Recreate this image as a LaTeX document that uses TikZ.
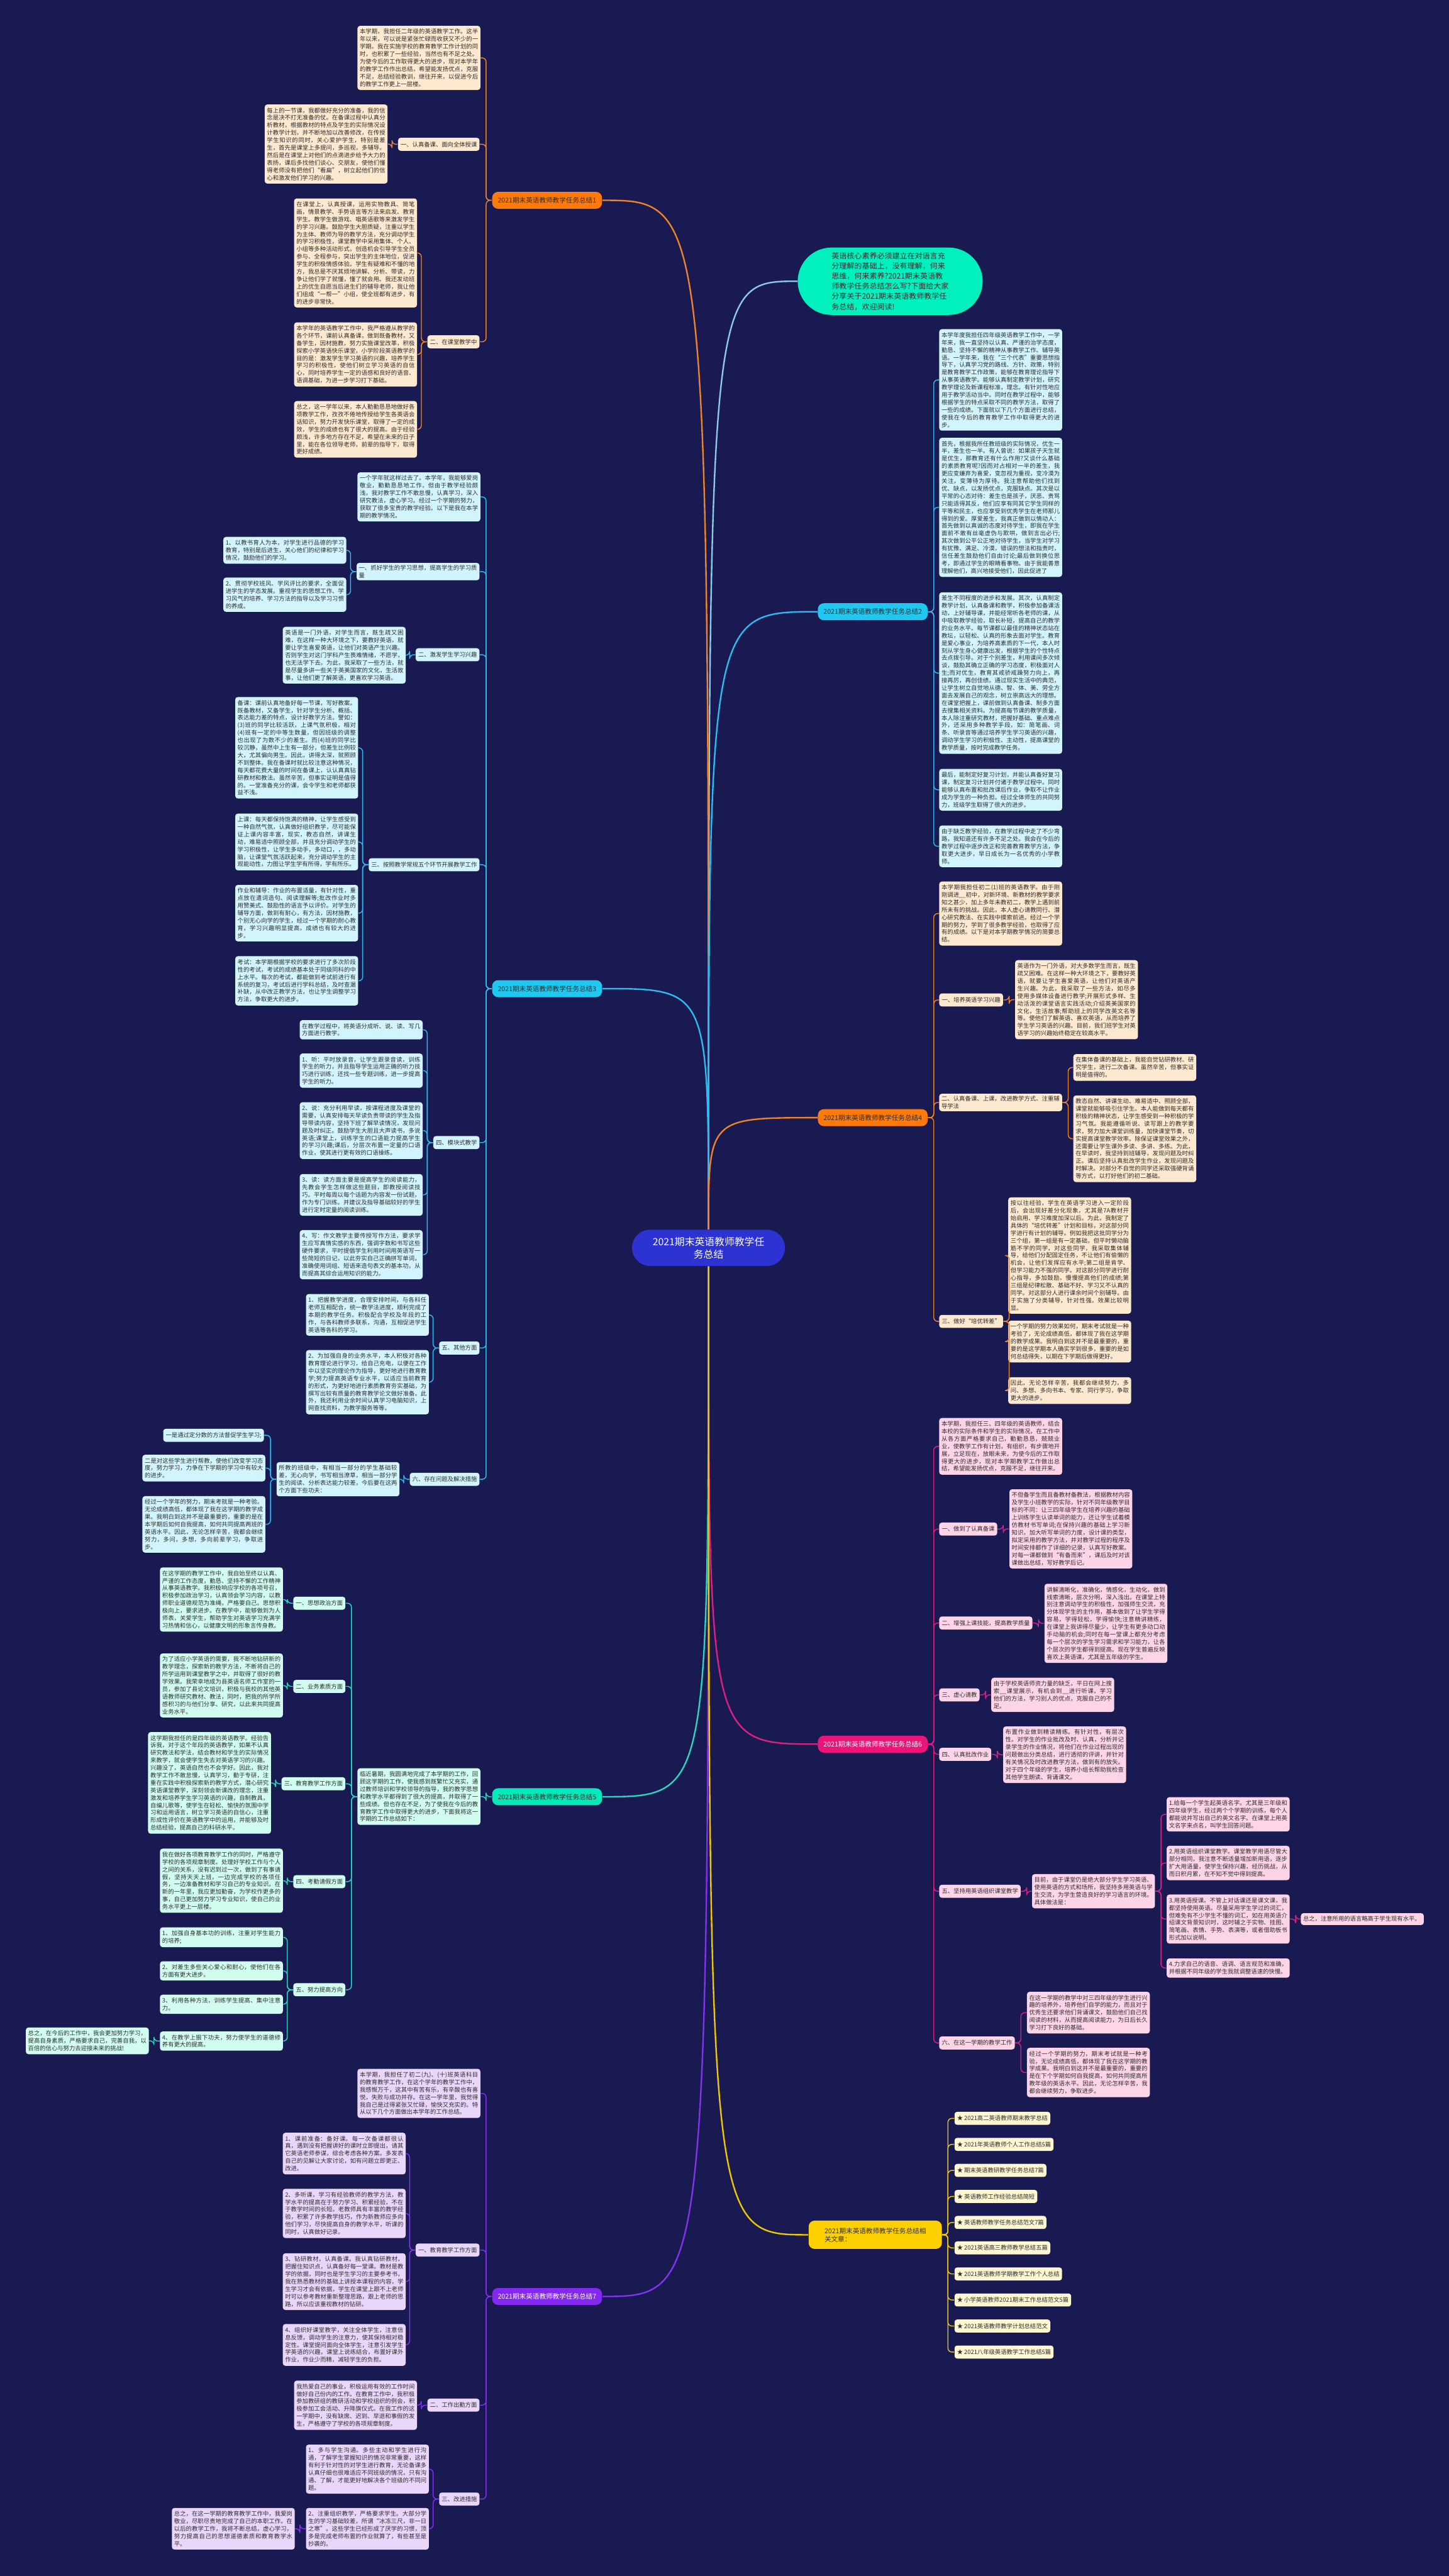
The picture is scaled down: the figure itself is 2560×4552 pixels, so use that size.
\documentclass[tikz,border=0pt]{standalone}
\usepackage{fontspec}
\setmainfont{Noto Sans CJK SC}
\XeTeXlinebreaklocale "zh"
\XeTeXlinebreakskip=0pt plus 1pt
\definecolor{bg}{RGB}{26,26,82}
\definecolor{tx}{RGB}{45,45,45}
\definecolor{ofill}{RGB}{253,232,208}\definecolor{ocol}{RGB}{240,130,40}\definecolor{olab}{RGB}{255,122,10}
\definecolor{cfill}{RGB}{210,245,253}\definecolor{ccol}{RGB}{40,190,240}\definecolor{clab}{RGB}{30,200,240}
\definecolor{tfill}{RGB}{208,253,240}\definecolor{tcol}{RGB}{40,215,190}\definecolor{tlab}{RGB}{0,235,185}
\definecolor{pfill}{RGB}{234,214,250}\definecolor{pcol}{RGB}{130,50,240}\definecolor{plab}{RGB}{130,40,240}
\definecolor{kfill}{RGB}{253,212,232}\definecolor{kcol}{RGB}{225,30,130}\definecolor{klab}{RGB}{235,20,120}
\definecolor{yfill}{RGB}{255,247,210}\definecolor{ycol}{RGB}{240,200,0}\definecolor{ylab}{RGB}{255,208,0}
\definecolor{gnode}{RGB}{0,240,190}\definecolor{gcol}{RGB}{140,202,230}
\definecolor{rootc}{RGB}{45,50,210}
\newcommand\fs{\fontsize{2.95pt}{3.76pt}\selectfont}
\newcommand\fb{\fontsize{3.35pt}{4.1pt}\selectfont}
\newcommand\ConL[3]{\draw[#1] (#2.west) -- ++(-10,0) |- (#3.east);}
\newcommand\ConR[3]{\draw[#1] (#2.east) -- ++(10,0) |- (#3.west);}
\tikzset{
  box/.style={font=\fs, text=tx, text width=2.09cm, align=justify, inner xsep=0.04cm, inner ysep=0.055cm, rounded corners=1.3pt, anchor=north west},
  lab/.style={font=\fs, text=tx, align=left, inner xsep=0.045cm, inner ysep=0.04cm, minimum height=0.23cm, rounded corners=1.3pt},
  blab/.style={font=\fb, inner xsep=0.1cm, inner ysep=0.05cm, minimum height=0.3cm, rounded corners=3pt},
  ob/.style={box, fill=ofill}, ol/.style={lab, fill=ofill}, oc/.style={ocol, line width=0.45pt, rounded corners=2pt},
  cb/.style={box, fill=cfill}, cl/.style={lab, fill=cfill}, cc/.style={ccol, line width=0.45pt, rounded corners=2pt},
  tb/.style={box, fill=tfill}, tl/.style={lab, fill=tfill}, tc/.style={tcol, line width=0.45pt, rounded corners=2pt},
  pb/.style={box, fill=pfill}, pl/.style={lab, fill=pfill}, pc/.style={pcol, line width=0.45pt, rounded corners=2pt},
  kb/.style={box, fill=kfill}, kl/.style={lab, fill=kfill}, kc/.style={kcol, line width=0.45pt, rounded corners=2pt},
  yl/.style={lab, fill=yfill, anchor=north west}, yc/.style={ycol, line width=0.45pt, rounded corners=2pt},
  rc/.style={line width=0.75pt}
}
\begin{document}
\begin{tikzpicture}[x=0.01cm, y=-0.01cm]
\useasboundingbox (0,0) rectangle (2560,4552);
\fill[bg] (0,0) rectangle (2560,4552);

% ---------- root and top node ----------
\node[fill=rootc, text=white, font=\fontsize{5pt}{6.3pt}\selectfont, align=center, rounded corners=9pt, inner xsep=0.2cm, inner ysep=0.1cm, minimum width=2.7cm, minimum height=0.64cm] (root) at (1252,2205) {2021期末英语教师教学任\\务总结};
\node[fill=gnode, text=tx, font=\fontsize{3.8pt}{5.1pt}\selectfont, align=left, rounded corners=17pt, inner xsep=0.6cm, inner ysep=0.06cm, minimum height=1.19cm] (green) at (1573,497) {英语核心素养必须建立在对语言充\\分理解的基础上，没有理解，何来\\思维，何来素养?2021期末英语教\\师教学任务总结怎么写?下面给大家\\分享关于2021期末英语教师教学任\\务总结，欢迎阅读!};

% ---------- branch labels ----------
\node[blab, fill=olab, text=tx, anchor=west] (br1) at (869,354) {2021期末英语教师教学任务总结1};
\node[blab, fill=clab, text=tx, anchor=west] (br3) at (869,1747) {2021期末英语教师教学任务总结3};
\node[blab, fill=tlab, text=tx, anchor=west] (br5) at (869,3175) {2021期末英语教师教学任务总结5};
\node[blab, fill=plab, text=white, anchor=west] (br7) at (869,4058) {2021期末英语教师教学任务总结7};
\node[blab, fill=clab, text=tx, anchor=east] (br2) at (1640,1081) {2021期末英语教师教学任务总结2};
\node[blab, fill=olab, text=tx, anchor=east] (br4) at (1640,1975) {2021期末英语教师教学任务总结4};
\node[blab, fill=klab, text=white, anchor=east] (br6) at (1640,3082) {2021期末英语教师教学任务总结6};
\node[blab, fill=ylab, text=tx, anchor=east, align=left, inner xsep=0.28cm, minimum height=0.5cm] (brr) at (1665,3949) {2021期末英语教师教学任务总结相\\关文章：};

% ---------- root connectors ----------
\draw[rc, gcol] (root.north) .. controls (root.north |- green.west) .. (green.west);
\draw[rc, ocol] (root.north) .. controls (root.north |- br1.east) .. (br1.east);
\draw[rc, ccol] (root.north) .. controls (root.north |- br3.east) .. (br3.east);
\draw[rc, ccol] (root.north) .. controls (root.north |- br2.west) .. (br2.west);
\draw[rc, ocol] (root.north) .. controls (root.north |- br4.west) .. (br4.west);
\draw[rc, tcol] (root.south) .. controls (root.south |- br5.east) .. (br5.east);
\draw[rc, pcol] (root.south) .. controls (root.south |- br7.east) .. (br7.east);
\draw[rc, kcol] (root.south) .. controls (root.south |- br6.west) .. (br6.west);
\draw[rc, ycol] (root.south) .. controls (root.south |- brr.west) .. (brr.west);

% ================= Branch 1 =================
\node[ob] (b1a) at (631,45) {本学期，我担任二年级的英语教学工作。这半年以来，可以说是紧张忙碌而收获又不少的一学期。我在实施学校的教育教学工作计划的同时，也积累了一些经验，当然也有不足之处。为使今后的工作取得更大的进步，现对本学年的教学工作作出总结，希望能发扬优点，克服不足，总结经验教训，继往开来，以促进今后的教学工作更上一层楼。};
\node[ol, anchor=east] (l11) at (848,255) {一、认真备课、面向全体授课};
\node[ob] (b1b) at (467,184) {每上的一节课，我都做好充分的准备，我的信念是决不打无准备的仗。在备课过程中认真分析教材，根据教材的特点及学生的实际情况设计教学计划，并不断地加以改善修改，在传授学生知识的同时，关心爱护学生，特别是差生，首先是课堂上多提问，多巡视，多辅导。然后是在课堂上对他们的点滴进步给予大力的表扬，课后多找他们谈心、交朋友，使他们懂得老师没有把他们“看扁”，树立起他们的信心和激发他们学习的兴趣。};
\node[ol, anchor=east] (l12) at (848,604) {二、在课堂教学中};
\node[ob] (b1c) at (519,350) {在课堂上，认真授课，运用实物教具、简笔画，情景教学、手势语言等方法来启发、教育学生。教学生做游戏、唱英语歌等来激发学生的学习兴趣。鼓励学生大胆质疑，注重以学生为主体、教师为导的教学方法，充分调动学生的学习积极性，课堂教学中采用集体、个人、小组等多种活动形式，创造机会引导学生全员参与、全程参与，突出学生的主体地位，促进学生的积极情感体验。学生有疑难和不懂的地方，我总是不厌其烦地讲解、分析、带读，力争让他们学了就懂，懂了就会用。我还发动班上的优生自愿当后进生们的辅导老师，我让他们组成“一帮一”小组，使全班都有进步，有的进步非常快。};
\node[ob] (b1d) at (519,569) {本学年的英语教学工作中，我严格遵从教学的各个环节，课前认真备课，做到既备教材，又备学生，因材施教，努力实施课堂改革，积极探索小学英语快乐课堂，小学阶段英语教学的目的是：激发学生学习英语的兴趣，培养学生学习的积极性，使他们树立学习英语的自信心，同时培养学生一定的语感和良好的语音、语调基础，为进一步学习打下基础。};
\node[ob] (b1e) at (519,708) {总之，这一学年以来，本人勤勤恳恳地做好各项教学工作，孜孜不倦地传授给学生各英语会话知识，努力开发快乐课堂，取得了一定的成效，学生的成绩也有了很大的提高。由于经验颇浅，许多地方存在不足，希望在未来的日子里，能在各位领导老师，前辈的指导下，取得更好成绩。};
\foreach \c in {b1a,l11,l12} {\ConL{oc}{br1}{\c}}
\ConL{oc}{l11}{b1b}
\foreach \c in {b1c,b1d,b1e} {\ConL{oc}{l12}{\c}}

% ================= Branch 3 =================
\node[cb] (b3a) at (631,834) {一个学年就这样过去了。本学年，我能够爱岗敬业，勤勤恳恳地工作，但由于教学经验颇浅，我对教学工作不敢怠慢，认真学习，深入研究教法，虚心学习。经过一个学期的努力，获取了很多宝贵的教学经验。以下是我在本学期的教学情况。};
\node[cb, anchor=north east, align=left, inner ysep=0.04cm] (l31) at (848,994) {一、抓好学生的学习思想，提高学生的学习质量};
\node[cb] (b3b1) at (394,948) {1、以教书育人为本，对学生进行品德的学习教育，特别是后进生，关心他们的纪律和学习情况，鼓励他们的学习。};
\node[cb] (b3b2) at (394,1020) {2、贯彻学校班风、学风评比的要求，全面促进学生的学态发展。重视学生的思想工作、学习风气的培养、学习方法的指导以及学习习惯的养成。};
\node[cl, anchor=east] (l32) at (848,1157) {二、激发学生学习兴趣};
\node[cb] (b3c) at (499,1107) {英语是一门外语，对学生而言，既生疏又困难，在这样一种大环境之下，要教好英语，就要让学生喜爱英语，让他们对英语产生兴趣。否则学生对这门学科产生畏难情绪，不愿学，也无法学下去。为此，我采取了一些方法，就是尽量多讲一些关于英美国家的文化，生活故事，让他们更了解英语，更喜欢学习英语。};
\node[cl, anchor=east] (l33) at (848,1528) {三、按照教学常规五个环节开展教学工作};
\node[cb] (b3d1) at (415,1231) {备课：课前认真地备好每一节课，写好教案。既备教材，又备学生，针对学生分析、概括、表达能力差的特点，设计好教学方法。譬如：(3)班的同学比较活跃，上课气氛积极，相对(4)班有一定的中等生数量，但因班级的调整也出现了为数不少的差生。而(4)班的同学比较沉静，虽然中上生有一部分，但差生比例较大，尤其偏向男生。因此，讲得太深，就照顾不到整体。我在备课时就比较注意这种情况，每天都花费大量的时间在备课上，认认真真钻研教材和教法。虽然辛苦，但事实证明是值得的。一堂准备充分的课，会令学生和老师都获益不浅。};
\node[cb] (b3d2) at (415,1437) {上课：每天都保持饱满的精神，让学生感受到一种自然气氛，认真做好组织教学，尽可能保证上课内容丰富，现实，教态自然，讲课生动，难易适中照顾全部，并且充分调动学生的学习积极性，让学生多动手，多动口，，多动脑，让课堂气氛活跃起来，充分调动学生的主观能动性，力图让学生学有所得，学有所乐。};
\node[cb] (b3d3) at (415,1563) {作业和辅导：作业的布置适量，有针对性，重点放在遣词造句、阅读理解等;批改作业时多用赞美式、鼓励性的语言予以评价。对学生的辅导方面，做到有耐心，有方法，因材施教，个别无心向学的学生，经过一个学期的耐心教育，学习兴趣明显提高，成绩也有较大的进步。};
\node[cb] (b3d4) at (415,1689) {考试：本学期根据学校的要求进行了多次阶段性的考试，考试的成绩基本处于同级同科的中上水平。每次的考试，都能做到考试前进行有系统的复习，考试后进行学科总结，及时查漏补缺，从中改正教学方法，也让学生调整学习方法，争取更大的进步。};
\node[cl, anchor=east] (l34) at (848,2019) {四、模块式教学};
\node[cb] (b3e0) at (529,1802) {在教学过程中，将英语分成听、说、读、写几方面进行教学。};
\node[cb] (b3e1) at (529,1861) {1、听：平时放录音，让学生跟录音读，训练学生的听力，并且指导学生运用正确的听力技巧进行训练，还找一些专题训练，进一步提高学生的听力。};
\node[cb] (b3e2) at (529,1947) {2、说：充分利用早读，按课程进度及课堂的需要，认真安排每天早读负责带读的学生及指导带读内容，坚持下班了解早读情况，发现问题及时纠正。鼓励学生大胆且大声读书，多说英语;课堂上，训练学生的口语能力提高学生的学习兴趣;课后，分层次布置一定量的口语作业，使其进行更有效的口语操练。};
\node[cb] (b3e3) at (529,2074) {3、读：读方面主要是提高学生的阅读能力，先教会学生怎样做这些题目，即教授阅读技巧。平时每周以每个话题为内容发一份试题，作为专门训练。并建议及指导基础较好的学生进行定时定量的阅读训练。};
\node[cb] (b3e4) at (529,2173) {4、写：作文教学主要传授写作方法，要求学生应写真情实感的东西，强调字数和书写这些硬件要求，平时提倡学生利用时间用英语写一些简短的日记，以此夯实自己正确拼写单词，准确使用词组、短语来造句表文的基本功，从而提高其综合运用知识的能力。};
\node[cl, anchor=east] (l35) at (848,2382) {五、其他方面};
\node[cb] (b3f1) at (540,2286) {1、把握教学进度，合理安排时间，与各科任老师互相配合，统一教学法进度，顺利完成了本期的教学任务。积极配合学校及年段的工作，与各科教师多联系，沟通，互相促进学生英语等各科的学习。};
\node[cb] (b3f2) at (540,2385) {2、为加强自身的业务水平，本人积极对各种教育理论进行学习，给自己充电，以便在工作中以坚实的理论作为指导，更好地进行教育教学;努力提高英语专业水平，以适应当前教育的形式，为更好地进行素质教育夯实基础，为撰写出较有质量的教育教学论文做好准备。此外，我还利用业余时间认真学习电脑知识，上网查找资料，为教学服务等等。};
\node[cl, anchor=east] (l36) at (848,2614) {六、存在问题及解决措施};
\node[cb] (b3g) at (488,2583) {所教的班级中，有相当一部分的学生基础较差，无心向学，书写相当潦草，相当一部分学生的阅读、分析表达能力较差，今后要在这两个方面下些功夫：};
\node[cl, anchor=north east] (b3ga) at (467,2524) {一是通过定分数的方法督促学生学习;};
\node[cb] (b3gb) at (251,2570) {二是对这些学生进行帮教，使他们改变学习态度，努力学习，力争在下学期的学习中有较大的进步。};
\node[cb] (b3gc) at (251,2643) {经过一个学年的努力，期末考就是一种考验。无论成绩高低，都体现了我在这学期的教学成果。我明白到这并不是最重要的，重要的是在本学期后如何自我提高，如何共同提高两班的英语水平。因此，无论怎样辛苦，我都会继续努力，多问，多想，多向前辈学习，争取进步。};
\foreach \c in {b3a,l31,l32,l33,l34,l35,l36} {\ConL{cc}{br3}{\c}}
\foreach \c in {b3b1,b3b2} {\ConL{cc}{l31}{\c}}
\ConL{cc}{l32}{b3c}
\foreach \c in {b3d1,b3d2,b3d3,b3d4} {\ConL{cc}{l33}{\c}}
\foreach \c in {b3e0,b3e1,b3e2,b3e3,b3e4} {\ConL{cc}{l34}{\c}}
\foreach \c in {b3f1,b3f2} {\ConL{cc}{l35}{\c}}
\ConL{cc}{l36}{b3g}
\foreach \c in {b3ga,b3gb,b3gc} {\ConL{cc}{b3g}{\c}}

% ================= Branch 5 =================
\node[tb] (b5a) at (631,3124) {临近暑期，我圆满地完成了本学期的工作，回顾这学期的工作，使我感到既繁忙又充实，通过教师培训和学校领导的指导，我的教学思想和教学水平都得到了很大的提高，并取得了一些成绩。但也存在不足，为了使我在今后的教育教学工作中取得更大的进步，下面我将这一学期的工作总结如下：};
\node[tl, anchor=east] (l51) at (611,2833) {一、思想政治方面};
\node[tb] (b51) at (282,2769) {在这学期的教学工作中，我自始至终以认真、严谨的工作态度，勤恳、坚持不懈的工作精神从事英语教学。我积极响应学校的各项号召，积极参加政治学习，认真领会学习内容，以教师职业道德规范为准绳，严格要自己。思想积极向上，要求进步。在教学中，能够做到为人师表，关爱学生，帮助学生对英语学习充满学习热情和信心，以健康文明的形象言传身教。};
\node[tl, anchor=east] (l52) at (611,2980) {二、业务素质方面};
\node[tb] (b52) at (282,2921) {为了适应小学英语的需要，我不断地钻研新的教学理念，探索新的教学方法，不断将自己的所学运用到课堂教学之中，并取得了很好的教学效果。我荣幸地成为县英语名师工作室的一员，参加了县论文培训，积极与我校的其他英语教师研究教材、教法，同时，把我的所学所感积习的与他们分享、研究，以此来共同提高业务水平。};
\node[tl, anchor=east] (l53) at (611,3152) {三、教育教学工作方面};
\node[tb] (b53) at (261,3060) {这学期我担任的是四年级的英语教学。经验告诉我，对于这个年段的英语教学，如果不认真研究教法和学法，结合教材和学生的实际情况来教学，就会使学生失去对英语学习的兴趣。兴趣没了，英语自然也不会学好。因此，我对教学工作不敢怠慢，认真学习，勤于专研，注重在实践中积极探索新的教学方式，潜心研究英语课堂教学，深刻领会新课改的理念，注重激发和培养学生学习英语的兴趣，自制教具，自编儿歌等，使学生在轻松、愉快的氛围中学习和运用语言，树立学习英语的自信心，注重形成性评价在英语教学中的运用，并能够及时总结经验，提高自己的科研水平。};
\node[tl, anchor=east] (l54) at (611,3325) {四、考勤请假方面};
\node[tb] (b54) at (282,3266) {我在做好各项教育教学工作的同时，严格遵守学校的各项规章制度。处理好学校工作与个人之间的关系，没有迟到过一次，做到了有事请假，坚持天天上班，一边完成学校的各项任务，一边准备教材和学习自己的专业知识。在新的一年里，我应更加勤奋，为学校作更多的事，自己更加努力学习专业知识，使自己的业务水平更上一层楼。};
\node[tl, anchor=east] (l55) at (611,3516) {五、努力提高方向};
\node[tb] (b55a) at (282,3405) {1、加强自身基本功的训练，注重对学生能力的培养;};
\node[tb] (b55b) at (282,3465) {2、对差生多些关心爱心和耐心，使他们在各方面有更大进步。};
\node[tb] (b55c) at (282,3524) {3、利用各种方法，训练学生提高、集中注意力。};
\node[tb] (b55d) at (282,3589) {4、在教学上狠下功夫，努力使学生的道德修养有更大的提高。};
\node[tb] (b55e) at (45,3582) {总之，在今后的工作中，我会更加努力学习，提高自身素质，严格要求自己，完善自我，以百倍的信心与努力去迎接未来的挑战!};
\ConL{tc}{br5}{b5a}
\foreach \c in {l51,l52,l53,l54,l55} {\ConL{tc}{b5a}{\c}}
\ConL{tc}{l51}{b51}
\ConL{tc}{l52}{b52}
\ConL{tc}{l53}{b53}
\ConL{tc}{l54}{b54}
\foreach \c in {b55a,b55b,b55c,b55d} {\ConL{tc}{l55}{\c}}
\ConL{tc}{b55d}{b55e}

% ================= Branch 7 =================
\node[pb] (b7a) at (631,3655) {本学期，我担任了初二(九)、(十)班英语科目的教育教学工作，在这个学年的教学工作中，我感慨万千，这其中有苦有乐，有辛酸也有喜悦，失败与成功并存。在这一学年里，我觉得我自己是过得紧张又忙碌，愉快又充实的。特从以下几个方面做出本学年的工作总结。};
\node[pl, anchor=east] (l71) at (848,3976) {一、教育教学工作方面};
\node[pb] (b71a) at (499,3768) {1、课前准备：备好课。每一次备课都很认真，遇到没有把握讲好的课时立即提出，请其它英语老师参谋，综合考虑各种方案。多发表自己的见解让大家讨论，如有问题立即更正、改进。};
\node[pb] (b71b) at (499,3867) {2、多听课，学习有经验教师的教学方法，教学水平的提高在于努力学习、积累经验，不在于教学时间的长短。老教师具有丰富的教学经验，积累了许多教学技巧，作为新教师应多向他们学习，尽快提高自身的教学水平，听课的同时，认真做好记录。};
\node[pb] (b71c) at (499,3981) {3、钻研教材，认真备课。我认真钻研教材，把握住知识点，认真备好每一堂课。教材是教学的依据，同时也是学生学习的主要参考书，我在熟悉教材的基础上讲授本课程的内容，学生学习才会有依据，学生在课堂上跟不上老师时可以参考教材重新整理思路，跟上老师的思路，所以应该重视教材的钻研。};
\node[pb] (b71d) at (499,4106) {4、组织好课堂教学，关注全体学生，注意信息反馈，调动学生的注意力，使其保持相对稳定性。课堂提问面向全体学生，注意引发学生学英语的兴趣，课堂上说练结合，布置好课外作业，作业少而精，减轻学生的负担。};
\node[pl, anchor=east] (l72) at (848,4250) {二、工作出勤方面};
\node[pb] (b72) at (519,4206) {我热爱自己的事业，积极运用有效的工作时间做好自己份内的工作。在教育工作中，我积极参加教研组的教研活动和学校组织的例会，积极参加工会活动、升降旗仪式。在我工作的这一学期中，没有缺席、迟到、早退和事假的发生，严格遵守了学校的各项规章制度。};
\node[pl, anchor=east] (l73) at (848,4416) {三、改进措施};
\node[pb] (b73a) at (540,4319) {1、多与学生沟通。多些主动和学生进行沟通，了解学生掌握知识的情况非常重要，这样有利于针对性的对学生进行教育，无论备课多认真仔细也很难适应不同班级的情况，只有沟通、了解，才能更好地解决各个班级的不同问题。};
\node[pb] (b73b) at (540,4431) {2、注重组织教学，严格要求学生。大部分学生的学习基础较差，所谓“冰冻三尺，非一日之寒”。这些学生已经形成了厌学的习惯，顶多是完成老师布置的作业就算了，有些甚至是抄袭的。};
\node[pb] (b73c) at (303,4431) {总之，在这一学期的教育教学工作中，我爱岗敬业，尽职尽责地完成了自己的本职工作。在以后的教学工作，我将不断总结，虚心学习，努力提高自己的思想道德素质和教育教学水平。};
\foreach \c in {b7a,l71,l72,l73} {\ConL{pc}{br7}{\c}}
\foreach \c in {b71a,b71b,b71c,b71d} {\ConL{pc}{l71}{\c}}
\ConL{pc}{l72}{b72}
\foreach \c in {b73a,b73b} {\ConL{pc}{l73}{\c}}
\ConL{pc}{b73b}{b73c}

% ================= Branch 2 =================
\node[cb] (b2a) at (1659,581) {本学年度我担任四年级英语教学工作中，一学年来，我一直坚持以认真、严谨的治学态度，勤恳、坚持不懈的精神从事教学工作、辅导英语。一学年来，我在“三个代表”重要思想指导下，认真学习党的路线、方针、政策，特别是教育教学工作政策，能够在教育理论指导下从事英语教学。能够认真制定教学计划，研究教学理论及新课程标准，理念。有针对性地应用于教学活动当中。同时在教学过程中，能够根据学生的特点采取不同的教学方法，取得了一些的成绩。下面就以下几个方面进行总结，使我在今后的教育教学工作中取得更大的进步。};
\node[cb] (b2b) at (1659,773) {首先，根据我所任教班级的实际情况，优生一半，差生也一半。有人曾说：如果孩子天生就是优生，那教育还有什么作用?又谈什么基础的素质教育呢?因而对占相对一半的差生，我更应变嫌弃为喜爱，变忽视为重视，变冷漠为关注，变薄待为厚待。我注意帮助他们找到优、缺点，以发扬优点，克服缺点。其次是以平常的心态对待：差生也是孩子，厌恶、责骂只能适得其反，他们应享有同其它学生同样的平等和民主，也应享受到优秀学生在老师那儿得到的爱。厚爱差生，我真正做到以情动人：首先做到以真诚的态度对待学生，即我在学生面前不敢有丝毫虚伪与欺哄，做到言出必行;其次做到公平公正地对待学生，当学生对学习有犹豫、满足、冷漠，错误的想法和指责时，信任差生鼓励他们自由讨论;最后做到换位思考，即通过学生的眼睛看事物。由于我能善意理解他们，高兴地接受他们，因此促进了};
\node[cb] (b2c) at (1659,1046) {差生不同程度的进步和发展。其次，认真制定教学计划，认真备课和教学，积极参加备课活动，上好辅导课，并能经常听各老师的课，从中吸取教学经验，取长补短，提高自己的教学的业务水平。每节课都以最佳的精神状态站在教坛，以轻松、认真的形象去面对学生。教育是爱心事业，为培养高素质的下一代，本人时刻从学生身心健康出发，根据学生的个性特点去点拨引导。对于个别差生，利用课间多次倾谈，鼓励其确立正确的学习态度，积极面对人生;而对优生，教育其戒骄戒躁努力向上，再接再厉，再创佳绩。通过现实生活中的典范，让学生树立自觉地从德、智、体、美、劳全方面去发展自己的观念，树立崇高远大的理想。在课堂把握上，课前做到认真备课、制多方面去搜集相关资料。为提高每节课的教学质量，本人除注重研究教材，把握好基础、重点难点外，还采用多种教学手段，如：简笔画、词条、听录音等通过培养学生学习英语的兴趣，调动学生学习的积极性、主动性，提高课堂的教学质量，按时完成教学任务。};
\node[cb] (b2d) at (1659,1358) {最后，能制定好复习计划，并能认真备好复习课，制定复习计划并付诸于教学过程中。同时能够认真布置和批改课后作业，争取不让作业成为学生的一种负担。经过全体师生的共同努力，班级学生取得了很大的进步。};
\node[cb] (b2e) at (1659,1458) {由于缺乏教学经验，在教学过程中走了不少弯路，我知道还有许多不足之处。我会在今后的教学过程中逐步改正和完善教育教学方法，争取更大进步，早日成长为一名优秀的小学教师。};
\foreach \c in {b2a,b2b,b2c,b2d,b2e} {\ConR{cc}{br2}{\c}}

% ================= Branch 4 =================
\node[ob] (b4a) at (1659,1557) {本学期我担任初二(1)班的英语教学。由于刚刚调进\_\_初中，对新环境、新教材的教学要求知之甚少，加上多年未教初二，教学上遇到前所未有的挑战。因此，本人虚心请教同行、潜心研究教法、在实践中摸索前进。经过一个学期的努力，学到了很多教学经验，也取得了应有的成绩。以下是对本学期教学情况的简要总结。};
\node[ol, anchor=west] (l41) at (1659,1767) {一、培养英语学习兴趣};
\node[ob] (b41) at (1793,1696) {英语作为一门外语，对大多数学生而言，既生疏又困难。在这样一种大环境之下，要教好英语，就要让学生喜爱英语，让他们对英语产生兴趣。为此，我采取了一些方法，如尽多使用多媒体设备进行教学;开展形式多样、生动活泼的课堂语言实践活动;介绍英美国家的文化，生活故事;帮助班上的同学改英文名等等。使他们了解英语、喜欢英语，从而培养了学生学习英语的兴趣。目前，我们班学生对英语学习的兴趣始终稳定在较高水平。};
\node[ob, align=left, inner ysep=0.04cm] (l42) at (1659,1932) {二、认真备课、上课，改进教学方式、注重辅导学法};
\node[ob] (b42a) at (1896,1862) {在集体备课的基础上，我能自觉钻研教材、研究学生，进行二次备课。虽然辛苦，但事实证明是值得的。};
\node[ob] (b42b) at (1896,1935) {教态自然、讲课生动、难易适中、照顾全部，课堂就能够吸引住学生。本人能做到每天都有积极的精神状态，让学生感受到一种积极的学习气氛。我能遵循听说、读写跟上的教学要求，努力加大课堂训练量，加快课堂节奏，切实提高课堂教学效率。除保证课堂效果之外，还需要让学生课外多读、多讲、多练。为此，在早读时，我坚持到班辅导，发现问题及时纠正。课后坚持认真批改学生作业，发现问题及时解决。对部分不自觉的同学还采取强硬背诵等方式，以打好他们的初二基础。};
\node[ol, anchor=west] (l43) at (1659,2335) {三、做好“培优转差”};
\node[ob] (b43a) at (1781,2115) {按以往经验，学生在英语学习进入一定阶段后，会出现好差分化现象，尤其是7A教材开始启用、学习难度加深以后。为此，我制定了具体的“培优转差”计划和目标，对这部分同学进行有计划的辅导。例如我把这批同学分为三个组，第一组是有一定基础，但平时懒动脑筋不学的同学，对这些同学，我采取集体辅导，给他们分配固定任务，不让他们有偷懒的机会，让他们发挥应有水平;第二组是肯学、但学习能力不强的同学。对这部分同学进行耐心指导，多加鼓励，慢慢提高他们的成绩;第三组是纪律松散、基础不好、学习又不认真的同学。对这部分人进行课余时间个别辅导。由于实施了分类辅导，针对性强，效果比较明显。};
\node[ob] (b43b) at (1781,2333) {一个学期的努力效果如何，期末考试就是一种考验了，无论成绩高低，都体现了我在这学期的教学成果。我明白到这并不是最重要的，重要的是这学期本人确实学到很多，重要的是如何总结得失，以期在下学期后做得更好。};
\node[ob] (b43c) at (1781,2433) {因此，无论怎样辛苦，我都会继续努力，多问、多想、多向书本、专家、同行学习，争取更大的进步。};
\foreach \c in {b4a,l41,l42,l43} {\ConR{oc}{br4}{\c}}
\ConR{oc}{l41}{b41}
\foreach \c in {b42a,b42b} {\ConR{oc}{l42}{\c}}
\foreach \c in {b43a,b43b,b43c} {\ConR{oc}{l43}{\c}}

% ================= Branch 6 =================
\node[kb] (b6a) at (1659,2505) {本学期，我担任三、四年级的英语教师，结合本校的实际条件和学生的实际情况，在工作中从各方面严格要求自己，勤勤恳恳，兢兢业业，使教学工作有计划，有组织，有步骤地开展，立足现在，放眼未来，为使今后的工作取得更大的进步，现对本学期教学工作做出总结，希望能发扬优点，克服不足，继往开来。};
\node[kl, anchor=west] (l61) at (1659,2702) {一、做到了认真备课};
\node[kb] (b61) at (1783,2631) {不但备学生而且备教材备教法，根据教材内容及学生小班教学的实际，针对不同年级教学目标的不同：让三四年级学生在培养兴趣的基础上训练学生认读单词的能力，还让学生试着模仿教材书写单词;在保持兴趣的基础上学习新知识，加大听写单词的力度，设计课的类型，拟定采用的教学方法，并对教学过程的程序及时间安排都作了详细的记录，认真写好教案。对每一课都做到“有备而来”，课后及时对该课做出总结，写好教学后记。};
\node[kl, anchor=west] (l62) at (1659,2868) {二、增强上课技能，提高教学质量};
\node[kb] (b62) at (1845,2798) {讲解清晰化，准确化，情感化，生动化，做到线索清晰，层次分明，深入浅出。在课堂上特别注意调动学生的积极性，加强师生交流，充分体现学生的主作用，基本做到了让学生学得容易，学得轻松，学得愉快;注意精讲精练，在课堂上我讲得尽量少，让学生有更多动口动手动脑的机会;同时在每一堂课上都充分考虑每一个层次的学生学习需求和学习能力，让各个层次的学生都得到提高。现在学生普遍反映喜欢上英语课，尤其是五年级的学生。};
\node[kl, anchor=west] (l63) at (1659,2995) {三、虚心请教};
\node[kb] (b63) at (1751,2964) {由于学校英语师资力量的缺乏，平日在网上搜索\_\_课堂展示，有机会到\_\_进行听课，学习他们的方法，学习别人的优点，克服自己的不足。};
\node[kl, anchor=west] (l64) at (1659,3100) {四、认真批改作业};
\node[kb] (b64) at (1772,3050) {布置作业做到精读精练。有针对性，有层次性。对学生的作业批改及时、认真，分析并记录学生的作业情况，将他们在作业过程出现的问题做出分类总结，进行透彻的评讲，并针对有关情况及时改进教学方法，做到有的放矢。对于四个年级的学生，培养小组长帮助我检查其他学生朗读、背诵课文。};
\node[kl, anchor=west] (l65) at (1659,3342) {五、坚持用英语组织课堂教学};
\node[kb] (b65) at (1823,3311) {目前，由于课堂仍是绝大部分学生学习英语、使用英语的方式和场所，我坚持多用英语与学生交流，为学生营造良好的学习语言的环境。具体做法是：};
\node[kb] (b65a) at (2061,3175) {1.给每一个学生起英语名字。尤其是三年级和四年级学生，经过两个个学期的训练，每个人都能说并写出自己的英文名字。在课堂上用英文名字来点名，叫学生回答问题。};
\node[kb] (b65b) at (2061,3261) {2.用英语组织课堂教学。课堂教学用语尽管大部分相同，我注意不断适量增加新用语，逐步扩大用语量，使学生保持兴趣，经历挑战，从而日积月累，在不知不觉中得到提高。};
\node[kb] (b65c) at (2061,3347) {3.用英语授课。不管上对话课还是课文课，我都坚持使用英语。尽量采用学生学过的词汇，但难免有不少学生不懂的词汇，如在用英语介绍课文背景知识时，这时辅之于实物、挂图、简笔画、表情、手势、表演等，或者借助板书形式加以说明。};
\node[kb] (b65d) at (2061,3460) {4.力求自己的语音、语调、语言规范和准确，并根据不同年级的学生我就调整语速的快慢。};
\node[kb] (b65x) at (2298,3380) {总之，注意所用的语言略高于学生现有水平。};
\node[kl, anchor=west] (l66) at (1659,3610) {六、在这一学期的教学工作};
\node[kb] (b66a) at (1814,3519) {在这一学期的教学中对三四年级的学生进行兴趣的培养外，培养他们自学的能力，而且对于优秀生还要求他们背诵课文，鼓励他们自己找阅读的材料，从而提高阅读能力，为日后长久学习打下良好的基础。};
\node[kb] (b66b) at (1814,3618) {经过一个学期的努力，期末考试就是一种考验，无论成绩高低，都体现了我在这学期的教学成果。我明白到这并不是最重要的，重要的是在下个学期如何自我提高，如何共同提高所教年级的英语水平。因此，无论怎样辛苦，我都会继续努力，争取进步。};
\foreach \c in {b6a,l61,l62,l63,l64,l65,l66} {\ConR{kc}{br6}{\c}}
\ConR{kc}{l61}{b61}
\ConR{kc}{l62}{b62}
\ConR{kc}{l63}{b63}
\ConR{kc}{l64}{b64}
\ConR{kc}{l65}{b65}
\foreach \c in {b65a,b65b,b65c,b65d} {\ConR{kc}{b65}{\c}}
\ConR{kc}{b65c}{b65x}
\foreach \c in {b66a,b66b} {\ConR{kc}{l66}{\c}}

% ================= Related =================
\node[yl] (r1) at (1686,3731) {★ 2021高二英语教师期末教学总结};
\node[yl] (r2) at (1686,3777) {★ 2021年英语教师个人工作总结5篇};
\node[yl] (r3) at (1686,3823) {★ 期末英语教研教学任务总结7篇};
\node[yl] (r4) at (1686,3869) {★ 英语教师工作经验总结简短};
\node[yl] (r5) at (1686,3915) {★ 英语教师教学任务总结范文7篇};
\node[yl] (r6) at (1686,3960) {★ 2021英语高三教师教学总结五篇};
\node[yl] (r7) at (1686,4006) {★ 2021英语教师学期教学工作个人总结};
\node[yl] (r8) at (1686,4052) {★ 小学英语教师2021期末工作总结范文5篇};
\node[yl] (r9) at (1686,4098) {★ 2021英语教师教学计划总结范文};
\node[yl] (r10) at (1686,4144) {★ 2021八年级英语教学工作总结5篇};
\foreach \c in {r1,r2,r3,r4,r5,r6,r7,r8,r9,r10} {\ConR{yc}{brr}{\c}}
\end{tikzpicture}
\end{document}
